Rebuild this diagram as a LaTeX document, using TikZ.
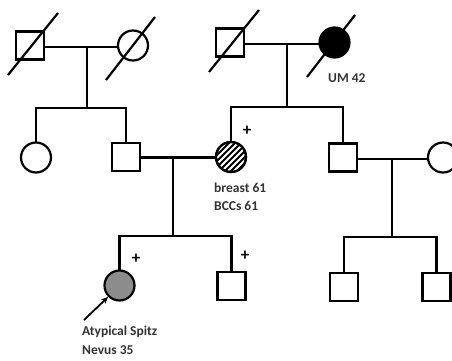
\documentclass[tikz,border=0pt]{standalone}
\usepackage{fontspec}
\setmainfont{Carlito}
\usetikzlibrary{arrows.meta,calc}
\begin{document}
\begin{tikzpicture}[x=1pt,y=-1pt,
  ln/.style={line width=2.2pt, line cap=rect},
  male/.style={draw, line width=2.2pt, minimum size=28pt, inner sep=0pt, rectangle},
  female/.style={draw, line width=2.2pt, minimum size=30pt, inner sep=0pt, circle},
  lbl/.style={font=\fontsize{13.5}{15}\selectfont\bfseries, anchor=west, inner sep=0pt, text=black!80},
  plus/.style={font=\fontsize{17}{17}\selectfont\bfseries, inner sep=0pt},
  dead/.style={line width=2.2pt}]
\useasboundingbox (0,0) rectangle (452,361);
% Generation I
\node[male] (g1a) at (30,45.5) {};
\node[female] (g1b) at (133,45.5) {};
\node[male] (g1c) at (230,42.5) {};
\node[female, fill=black] (g1d) at (334.5,42.5) {};
\draw[dead] (8,75) -- (58,13);
\draw[dead] (106,80) -- (155,17);
\draw[dead] (209,72) -- (259,10);
\draw[dead] (307,77) -- (355,15);
\node[lbl] (um) at (328,78) {UM 42};
\coordinate (m1) at (87,47);
\coordinate (m2) at (287,44);
\draw[ln] (g1a.east |- m1) -- (g1b.west |- m1);
\draw[ln] (g1c.east |- m2) -- (g1d.west |- m2);
\coordinate (s1) at (87,108);
\coordinate (s2) at (287,107);
\draw[ln] (m1) -- (s1);
\draw[ln] (m2) -- (s2);
% Generation II
\node[female] (g2a) at (36,157.5) {};
\node[male] (g2b) at (126,157) {};
\node[female] (g2c) at (231,157) {};
\node[male] (g2d) at (343,157.5) {};
\node[female] (g2e) at (443,157.5) {};
\begin{scope}
\clip (g2c.center) circle (15pt);
\foreach \i in {-40,-34,...,40} {
  \draw[line width=2pt] ($(g2c.center)+(\i-20,20)$) -- ($(g2c.center)+(\i+20,-20)$);
}
\end{scope}
\node[female] at (g2c) {};
\draw[ln] (g2a.north |- s1) -- (g2b.north |- s1);
\draw[ln] (g2a.north |- s1) -- (g2a.north);
\draw[ln] (g2b.north |- s1) -- (g2b.north);
\draw[ln] (g2c.north |- s2) -- (g2d.north |- s2);
\draw[ln] (g2c.north |- s2) -- (g2c.north);
\draw[ln] (g2d.north |- s2) -- (g2d.north);
\node[plus] (p1) at (247,131) {+};
\node[lbl] (br) at (214,188) {breast 61};
\node[lbl] (bc) at (214,206) {BCCs 61};
\coordinate (m3) at (173,157.5);
\coordinate (m4) at (392,159);
\draw[ln] (g2b.east |- m3) -- (g2c.west |- m3);
\draw[ln] (g2d.east |- m4) -- (g2e.west |- m4);
\coordinate (s3) at (173,236);
\coordinate (s4) at (392,237);
\draw[ln] (m3) -- (s3);
\draw[ln] (m4) -- (s4);
% Generation III
\node[female, fill=black!45] (g3a) at (119.5,285.5) {};
\node[male] (g3b) at (231.5,286) {};
\node[male] (g3c) at (344,287) {};
\node[male] (g3d) at (436.5,287) {};
\draw[ln] (g3a.north |- s3) -- (g3b.north |- s3);
\draw[ln] (g3a.north |- s3) -- (g3a.north);
\draw[ln] (g3b.north |- s3) -- (g3b.north);
\draw[ln] (g3c.north |- s4) -- (g3d.north |- s4);
\draw[ln] (g3c.north |- s4) -- (g3c.north);
\draw[ln] (g3d.north |- s4) -- (g3d.north);
\node[plus] (p2) at (136,259) {+};
\node[plus] (p3) at (245,256) {+};
\coordinate (a0) at (84,320);
\draw[line width=1.8pt, -{Stealth[length=7pt,width=6pt]}] (a0) -- (g3a.south west);
\node[lbl] (as) at (82,332) {Atypical Spitz};
\node[lbl] (nv) at (82,350) {Nevus 35};
\end{tikzpicture}
\end{document}
